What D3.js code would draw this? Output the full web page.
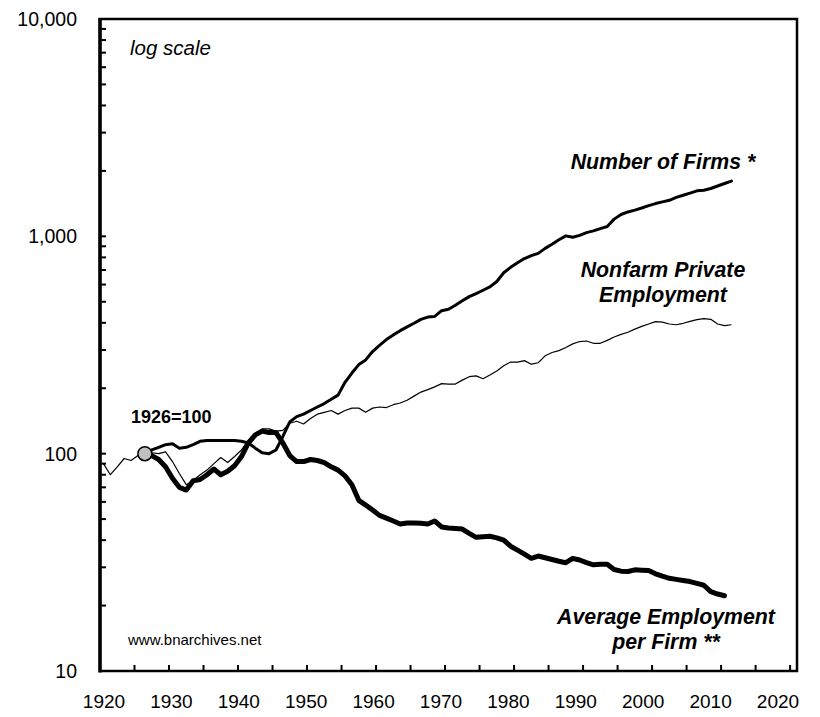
<!DOCTYPE html>
<html>
<head>
<meta charset="utf-8">
<script src="https://cdn.jsdelivr.net/npm/d3@7/dist/d3.min.js"></script>
<style>
  body { margin: 0; background: #fff; }
  text { font-family: "Liberation Sans", Arial, sans-serif; fill: #000; }
</style>
</head>
<body>
<div id="chart"></div>
<script>
// index, 1926 = 100
var employmentStart = 1920;
var employment = [90, 80, 87, 95, 93, 98, 100, 101, 100, 102,
  92, 81, 72, 75, 80, 84, 90, 96, 91, 97,
  104, 115, 124, 130, 130, 127, 128, 138, 141, 137,
  145, 152, 155, 158, 152, 158, 162, 162, 155, 162,
  164, 163, 168, 171, 176, 184, 192, 197, 203, 210,
  209, 209, 218, 226, 228, 221, 230, 240, 254, 264,
  264, 268, 258, 262, 282, 292, 298, 308, 320, 328,
  330, 322, 322, 332, 344, 354, 362, 374, 385, 395,
  405, 403, 395, 392, 398, 406, 414, 418, 415, 395,
  388, 392];

var firmsStart = 1926;
var firms = [100, 104, 107, 110, 111, 106, 107, 110, 114, 115,
  115, 115, 115, 115, 114, 112, 106, 101, 100, 104,
  120, 140, 148, 152, 158, 164, 170, 178, 186, 213,
  235, 257, 270, 295, 315, 335, 352, 368, 383, 398,
  415, 425, 428, 455, 462, 482, 505, 528, 545, 565,
  585, 620, 680, 720, 755, 790, 815, 835, 880, 920,
  965, 1005, 990, 1010, 1040, 1060, 1085, 1110, 1200, 1260,
  1295, 1320, 1350, 1385, 1415, 1440, 1465, 1510, 1545, 1580,
  1620, 1630, 1660, 1705, 1750, 1795];

var avgStart = 1926;
var avgPerFirm = [100, 98, 94, 87, 77, 70, 68, 75, 76, 80,
  85, 80, 83, 88, 97, 112, 122, 127, 125, 125,
  112, 98, 92, 92, 94, 93, 91, 87, 84, 79,
  72, 61, 58, 55, 52, 50.5, 49, 47.5, 48, 48,
  47.8, 47.5, 49, 46, 45.5, 45.3, 45, 43, 41.2, 41.5,
  41.7, 41, 40, 37.5, 36, 34.5, 33, 33.8, 33.2, 32.6,
  32, 31.5, 33, 32.4, 31.5, 30.8, 31, 31, 29.3, 28.8,
  28.7, 29.2, 29.1, 29, 28, 27.3, 26.7, 26.4, 26.1, 25.8,
  25.3, 24.8, 23.2, 22.6, 22.2];

var yTickValues = [10, 100, 1000, 10000];
var xTickLabels = [1920, 1930, 1940, 1950, 1960, 1970, 1980, 1990, 2000, 2010, 2020];

function drawChart() {
  var width = 820, height = 717;
  var plotLeft = 100, plotRight = 797, plotTop = 19, plotBottom = 671;

  var svg = d3.select("#chart").append("svg")
    .attr("width", width)
    .attr("height", height);

  // category axis: each year sits in the middle of its slot
  var x = d3.scaleLinear().domain([1919.5, 2020.5]).range([plotLeft, plotRight]);
  var y = d3.scaleLog().domain([10, 10000]).range([plotBottom, plotTop]);
  // tick labels in the original are spread a bit tighter than the ticks
  var xLabel = d3.scaleLinear().domain([1920, 2020]).range([104, 778]);

  function toPoints(start, values) {
    return values.map(function(v, i) { return { year: start + i, value: v }; });
  }

  var line = d3.line()
    .x(function(d) { return x(d.year); })
    .y(function(d) { return y(d.value); });

  // frame
  svg.append("rect")
    .attr("x", plotLeft).attr("y", plotTop)
    .attr("width", plotRight - plotLeft).attr("height", plotBottom - plotTop)
    .attr("fill", "none").attr("stroke", "#000").attr("stroke-width", 2.5);

  svg.append("line")
    .attr("x1", plotLeft).attr("x2", plotLeft)
    .attr("y1", plotTop - 1).attr("y2", plotBottom + 1.5)
    .attr("stroke", "#000").attr("stroke-width", 3.5);

  // y minor ticks (inside)
  var minor = [];
  yTickValues.slice(0, -1).forEach(function(d) {
    for (var k = 2; k <= 9; k++) minor.push(d * k);
  });
  svg.append("g").selectAll("line").data(minor.concat(yTickValues)).enter()
    .append("line")
    .attr("x1", plotLeft).attr("x2", plotLeft + 6)
    .attr("y1", function(d) { return y(d); })
    .attr("y2", function(d) { return y(d); })
    .attr("stroke", "#000").attr("stroke-width", 2);

  svg.append("g").selectAll("text").data(yTickValues).enter()
    .append("text")
    .attr("x", 77)
    .attr("y", function(d) { return y(d) + 7; })
    .attr("text-anchor", "end")
    .style("font-size", "19.5px")
    .text(d3.format(","));

  // x ticks between year slots, every 5 years
  var xTicks = d3.range(1924.5, 2020.5, 5);
  svg.append("g").selectAll("line").data(xTicks).enter()
    .append("line")
    .attr("x1", function(d) { return x(d); })
    .attr("x2", function(d) { return x(d); })
    .attr("y1", plotBottom).attr("y2", plotBottom - 6)
    .attr("stroke", "#000").attr("stroke-width", 2);

  svg.append("g").selectAll("text").data(xTickLabels).enter()
    .append("text")
    .attr("x", function(d) { return xLabel(d); })
    .attr("y", 708)
    .attr("text-anchor", "middle")
    .style("font-size", "19px")
    .text(function(d) { return d; });

  // series
  svg.append("path")
    .datum(toPoints(employmentStart, employment))
    .attr("d", line)
    .attr("fill", "none").attr("stroke", "#000")
    .attr("stroke-width", 1.2).attr("stroke-linejoin", "round");

  svg.append("path")
    .datum(toPoints(firmsStart, firms))
    .attr("d", line)
    .attr("fill", "none").attr("stroke", "#000")
    .attr("stroke-width", 3).attr("stroke-linejoin", "round").attr("stroke-linecap", "round");

  svg.append("path")
    .datum(toPoints(avgStart, avgPerFirm))
    .attr("d", line)
    .attr("fill", "none").attr("stroke", "#000")
    .attr("stroke-width", 5).attr("stroke-linejoin", "round").attr("stroke-linecap", "round");

  // base year marker
  svg.append("circle")
    .attr("cx", x(1926)).attr("cy", y(100))
    .attr("r", 7)
    .attr("fill", "#c0c0c0").attr("stroke", "#000").attr("stroke-width", 1.5);

  // annotations
  svg.append("text")
    .attr("x", 130).attr("y", 55)
    .style("font-size", "20.5px").style("font-style", "italic")
    .text("log scale");

  svg.append("text")
    .attr("x", 131).attr("y", 423)
    .style("font-size", "18px").style("font-weight", "bold")
    .text("1926=100");

  svg.append("text")
    .attr("x", 128).attr("y", 645)
    .style("font-size", "15px")
    .text("www.bnarchives.net");

  var labels = [
    { lines: ["Number of Firms *"], x: 663, y: 169 },
    { lines: ["Nonfarm Private", "Employment"], x: 663, y: 277 },
    { lines: ["Average Employment", "per Firm **"], x: 666, y: 624 }
  ];
  labels.forEach(function(l) {
    var t = svg.append("text")
      .attr("x", l.x).attr("y", l.y)
      .attr("text-anchor", "middle")
      .style("font-size", "21.3px").style("font-weight", "bold").style("font-style", "italic");
    l.lines.forEach(function(s, i) {
      t.append("tspan").attr("x", l.x).attr("dy", i === 0 ? 0 : 25).text(s);
    });
  });
}

drawChart();
</script>
</body>
</html>
